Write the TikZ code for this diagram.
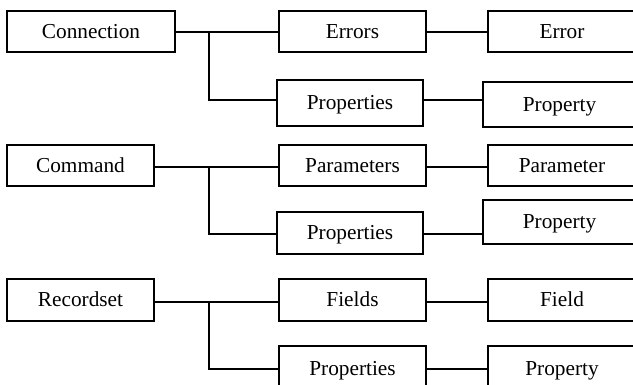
\documentclass[tikz,border=0pt]{standalone}
\usepackage{fontspec}
\setmainfont{Liberation Serif}
\begin{document}
\begin{tikzpicture}[x=1pt,y=-1pt,
  box/.style={draw=black, line width=1.7pt, rectangle, inner sep=0pt,
    text height=14pt, text depth=0pt, font=\fontsize{21.3}{25}\selectfont},
  link/.style={draw=black, line width=1.7pt}]
\useasboundingbox (0,0) rectangle (633,385);
\clip (0,0) rectangle (633,385);
% Row 1
\node[box, minimum width=168pt, minimum height=41pt] (con) at (91,31.5) {Connection};
\node[box, minimum width=147pt, minimum height=41pt] (errs) at (352.5,31.5) {Errors};
\node[box, minimum width=148pt, minimum height=41pt] (err) at (562,31.5) {Error};
\node[box, minimum width=146pt, minimum height=46pt] (props1) at (350,103) {Properties};
\node[box, minimum width=153pt, minimum height=45pt] (prop1) at (559.5,104.5) {Property};
\coordinate (b1) at (209,32);
\coordinate (j1) at (209,100);
\draw[link] (con.east |- b1) -- (errs.west |- b1);
\draw[link] (b1) -- (j1) -- (j1 -| props1.west);
\draw[link] (errs.east |- b1) -- (err.west |- b1);
\draw[link] (j1 -| props1.east) -- (j1 -| prop1.west);
% Row 2
\node[box, minimum width=147pt, minimum height=41pt] (cmd) at (80.5,165.5) {Command};
\node[box, minimum width=147pt, minimum height=41pt] (pars) at (352.5,165.5) {Parameters};
\node[box, minimum width=148pt, minimum height=41pt] (par) at (562,165.5) {Parameter};
\node[box, minimum width=146pt, minimum height=42pt] (props2) at (350,233) {Properties};
\node[box, minimum width=153pt, minimum height=44pt] (prop2) at (559.5,222) {Property};
\coordinate (b2) at (209,167);
\coordinate (j2) at (209,234);
\draw[link] (cmd.east |- b2) -- (pars.west |- b2);
\draw[link] (b2) -- (j2) -- (j2 -| props2.west);
\draw[link] (pars.east |- b2) -- (par.west |- b2);
\draw[link] (j2 -| props2.east) -- (j2 -| prop2.west);
% Row 3
\node[box, minimum width=147pt, minimum height=42pt] (rs) at (80.5,300) {Recordset};
\node[box, minimum width=147pt, minimum height=42pt] (flds) at (352.5,300) {Fields};
\node[box, minimum width=148pt, minimum height=42pt] (fld) at (562,300) {Field};
\node[box, minimum width=147pt, minimum height=46pt] (props3) at (352.5,369) {Properties};
\node[box, minimum width=148pt, minimum height=46pt] (prop3) at (562,369) {Property};
\coordinate (b3) at (209,302);
\coordinate (j3) at (209,369);
\draw[link] (rs.east |- b3) -- (flds.west |- b3);
\draw[link] (b3) -- (j3) -- (props3.west);
\draw[link] (flds.east |- b3) -- (fld.west |- b3);
\draw[link] (props3.east) -- (prop3.west);
\end{tikzpicture}
\end{document}
